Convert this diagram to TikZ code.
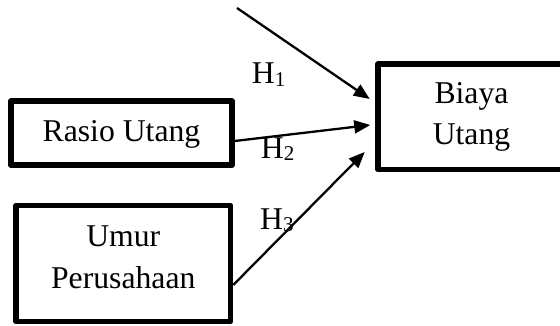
\documentclass[tikz,border=0pt]{standalone}
\usepackage{fontspec}
\setmainfont{Liberation Serif}
\usetikzlibrary{arrows.meta,calc}
\newcommand\hsubscr[1]{\raisebox{-2.5pt}{\fontsize{21}{21}\selectfont #1}}
\begin{document}
\begin{tikzpicture}[x=1pt,y=-1pt,
  box/.style={draw, line width=5.5pt, line join=round, inner sep=0pt, align=center,
    font=\fontsize{31.7}{41.5}\selectfont},
  arr/.style={line width=2.3pt, -{Triangle[length=16pt,width=13pt]}},
  hlab/.style={anchor=base west, inner sep=0pt, font=\fontsize{31.7}{38}\selectfont}]
\useasboundingbox (0,0) rectangle (560,326);
\clip (0,0) rectangle (560,326);

\node[box, minimum width=221pt, minimum height=64pt, text height=23pt] (ras) at (121.5,133) {Rasio Utang};
\node[box, minimum width=214.5pt, minimum height=116pt, text depth=13pt] (umur) at (123.25,263.5) {Umur\\Perusahaan};
\node[box, minimum width=187pt, minimum height=105.5pt] (bia) at (471.5,116.75) {Biaya\\Utang};

\node[hlab] (h1) at (251.7,84) {H\hsubscr{1}};
\node[hlab] (h2) at (260.7,158.3) {H\hsubscr{2}};
\node[hlab] (h3) at (260,229.3) {H\hsubscr{3}};

\coordinate (s1) at (237,8);
\draw[arr] (s1) -- ($(bia.west)+(-5.5,-17.75)$);
\draw[arr] ($(ras.east)+(0,8)$) -- ($(bia.west)+(-5,8.25)$);
\draw[arr] ($(umur.east)+(0,21.5)$) -- ($(bia.west)+(-10.5,35.25)$);
\end{tikzpicture}
\end{document}
